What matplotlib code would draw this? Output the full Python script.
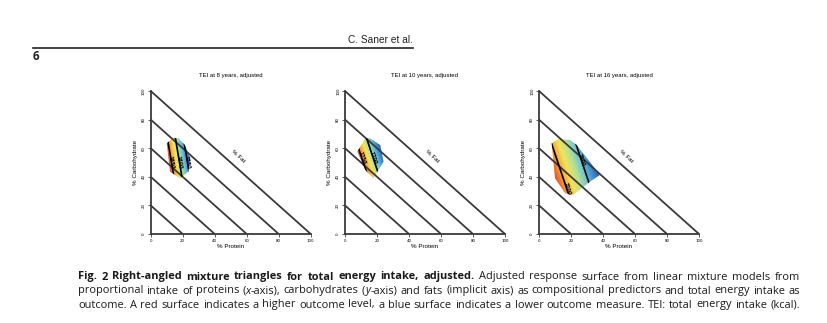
import numpy as np
import matplotlib
matplotlib.use("Agg")
import matplotlib.pyplot as plt
from matplotlib.patches import Polygon
from matplotlib.colors import LinearSegmentedColormap

W, H = 828, 323

titles = ["TEI at 8 years, adjusted", "TEI at 10 years, adjusted", "TEI at 16 years, adjusted"]

# observed region of the data (protein %, carbohydrate %)
prot1 = [14.1, 10.0, 12.1, 18.3, 23.5, 24.6, 21.4, 17.3]
carb1 = [67.3, 63.4, 43.6, 39.0, 43.6, 52.9, 62.2, 66.9]
prot2 = [12.6, 7.7, 12.6, 17.8, 24.1, 22.0, 15.7]
carb2 = [66.9, 57.6, 44.8, 39.0, 50.6, 62.2, 66.9]
prot3 = [7.9, 12.1, 19.4, 23.6, 38.1, 31.9, 21.4, 16.3, 10.0]
carb3 = [63.4, 66.4, 65.7, 62.2, 41.3, 36.6, 27.3, 28.5, 39.0]
regions = [(prot1, carb1), (prot2, carb2), (prot3, carb3)]

# linear mixture model (kcal): b0 + b_prot*protein + b_carb*carbohydrate
b0 = [1855, 1935, 2377]
b_prot = [-10.0, -7.0, -6.6]
b_carb = [-1.5, -2.1, -1.98]
levels = [[1550, 1600, 1650], [1700, 1750], [2100, 2200]]
label_pos = [[(13, 50), (18, 50), (22.5, 50)], [(10.5, 53), (17.8, 53)], [(16.5, 31), (26.5, 52)]]

fat_lines = [20, 40, 60, 80, 100]
ticks = [0, 20, 40, 60, 80, 100]

cmap = LinearSegmentedColormap.from_list(
    "surf", ["#2b55a8", "#3f8fd2", "#6cc6d6", "#b8e08f", "#f3e35a", "#f6a23c", "#e0522a"])

lc = "#3a3a3a"
fig = plt.figure(figsize=(W / 100, H / 100), dpi=100)

ax_left = [150.7, 345.0, 539.0]
for i in range(3):
    ax = fig.add_axes([ax_left[i] / W, (H - 234) / H, 160 / W, 143 / H])
    ax.set_xlim(0, 100)
    ax.set_ylim(0, 100)
    for s in ["top", "right"]:
        ax.spines[s].set_visible(False)
    for s in ["left", "bottom"]:
        ax.spines[s].set_linewidth(1.3)
        ax.spines[s].set_color(lc)
    for v in fat_lines:
        ax.plot([v, 0], [0, v], color=lc, lw=1.3, clip_on=False, solid_capstyle="butt")

    prot, carb = regions[i]
    poly = Polygon(np.column_stack([prot, carb]), closed=True, facecolor="none", edgecolor="none")
    ax.add_patch(poly)
    pp, cc = np.meshgrid(np.linspace(0, 60, 300), np.linspace(0, 100, 500))
    zz = b0[i] + b_prot[i] * pp + b_carb[i] * cc
    zv = b0[i] + b_prot[i] * np.array(prot) + b_carb[i] * np.array(carb)
    im = ax.imshow(zz, extent=[0, 60, 0, 100], origin="lower", aspect="auto",
                   cmap=cmap, vmin=zv.min(), vmax=zv.max(), interpolation="bilinear")
    im.set_clip_path(poly)
    cs = ax.contour(pp, cc, zz, levels=levels[i], colors="k", linewidths=1.2)
    cs.set_clip_path(poly)
    ax.clabel(cs, fontsize=3.4, inline=False, manual=label_pos[i], colors="k", fmt="%d")
    for t in cs.labelTexts:
        t.set_fontweight("bold")

    ax.set_xticks(ticks)
    ax.set_yticks(ticks)
    ax.tick_params(direction="out", length=2, width=0.6, color=lc, labelsize=2.8, pad=1.5)
    plt.setp(ax.get_yticklabels(), rotation=90, va="center")
    ax.set_xlabel("% Protein", fontsize=4.5, labelpad=1, family="Liberation Sans")
    ax.set_ylabel("% Carbohydrate", fontsize=4.5, labelpad=3, family="Liberation Sans")
    ax.set_title(titles[i], fontsize=4.3, pad=10, family="Liberation Sans")
    ax.text(54.5, 54.5, "% Fat", fontsize=4.5, rotation=-42, ha="center", va="center",
            rotation_mode="anchor", family="Liberation Sans")

# page header
fig.text(413 / W, 1 - 40 / H, "C. Saner et al.", ha="right", va="center", fontsize=7.3,
         family=["Liberation Sans Narrow", "Liberation Sans"], color="#222222")
fig.add_artist(plt.Line2D([33 / W, 413 / W], [1 - 47.5 / H, 1 - 47.5 / H], color="#222222", lw=1.2))
fig.text(33 / W, 1 - 56.5 / H, "6", ha="left", va="center", fontsize=8.5, fontweight="bold",
         family="Open Sans", color="#222222")

# caption, justified word by word
cap_lines = [
    [("Fig. 2", "b"), ("  Right-angled mixture triangles for total energy intake, adjusted.", "b"),
     (" Adjusted response surface from linear mixture models from", "n")],
    [("proportional intake of proteins (", "n"), ("x", "i"), ("-axis), carbohydrates (", "n"), ("y", "i"),
     ("-axis) and fats (implicit axis) as compositional predictors and total energy intake as", "n")],
    [("outcome. A red surface indicates a higher outcome level, a blue surface indicates a lower "
      "outcome measure. TEI: total energy intake (kcal).", "n")],
]
cap_y = [277, 291, 305]
x0, x1 = 78, 800


def words_of(segs):
    words = [[]]
    for txt, st in segs:
        parts = txt.split(" ")
        for j, p in enumerate(parts):
            if j > 0:
                words.append([])
            if p:
                words[-1].append((p, st))
    return [w for w in words if w]


def styled(x, y, s, st):
    kw = dict(fontsize=7.9, family="Open Sans", color="#1a1a1a", va="center", ha="left")
    if st == "b":
        kw["fontweight"] = "bold"
    if st == "i":
        kw["fontstyle"] = "italic"
    return fig.text(x / W, 1 - y / H, s, **kw)


renderer = fig.canvas.get_renderer()
for segs, y in zip(cap_lines, cap_y):
    words = words_of(segs)
    objs = []
    widths = []
    for w in words:
        pieces = []
        tot = 0
        for s, st in w:
            t = styled(0, y, s, st)
            pw = t.get_window_extent(renderer).width
            pieces.append((t, pw))
            tot += pw
        objs.append(pieces)
        widths.append(tot)
    gap = (x1 - x0 - sum(widths)) / (len(words) - 1)
    x = x0
    for pieces, wd in zip(objs, widths):
        xx = x
        for t, pw in pieces:
            t.set_x(xx / W)
            xx += pw
        x += wd + gap

fig.savefig("out.png", dpi=100)
